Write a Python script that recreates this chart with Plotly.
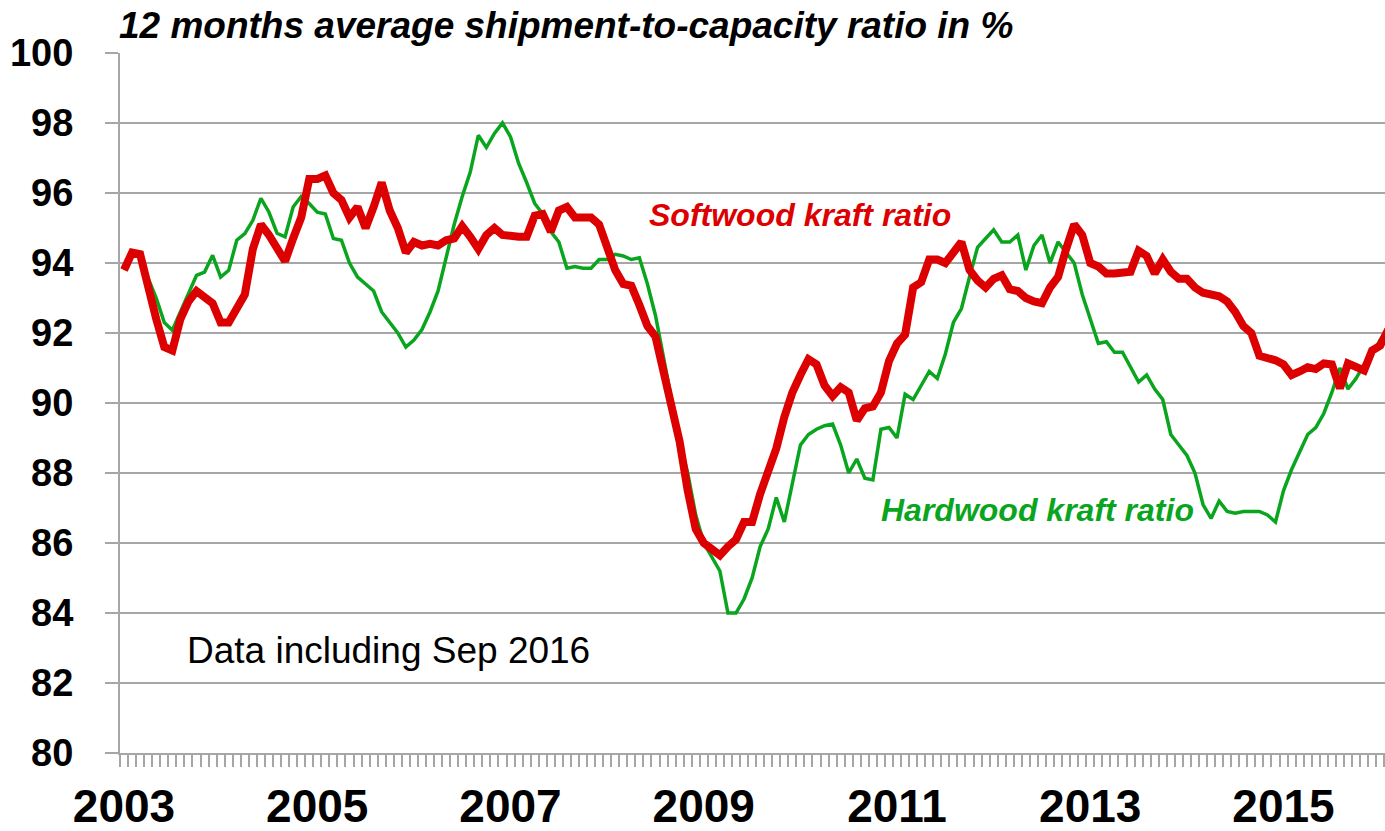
import plotly.graph_objects as go

# Monthly observations, Jan 2003 onward (month index 0 = Jan 2003)
softwood = [
    93.8, 94.3, 94.25, 93.2, 92.4, 91.6, 91.5, 92.4, 92.9, 93.2, 93.05, 92.85,
    92.3, 92.3, 92.7, 93.1, 94.4, 95.1, 94.8, 94.4, 94.05, 94.7, 95.3, 96.4,
    96.4, 96.5, 96.0, 95.8, 95.3, 95.6, 95.0, 95.6, 96.3, 95.5, 95.0, 94.3,
    94.6, 94.5, 94.55, 94.5, 94.65, 94.7, 95.05, 94.75, 94.4, 94.8, 95.0, 94.8,
    94.75, 94.75, 94.75, 95.35, 95.4, 94.9, 95.5, 95.6, 95.3, 95.3, 95.3, 95.1,
    94.4, 93.8, 93.4, 93.35, 92.8, 92.2, 91.9, 90.9, 90.0, 88.9, 87.5, 86.4,
    86.0, 85.8, 85.65, 85.9, 86.1, 86.6, 86.6, 87.4, 88.1, 88.7, 89.6, 90.3,
    90.8, 91.25, 91.1, 90.5, 90.2, 90.45, 90.3, 89.5, 89.85, 89.9, 90.3, 91.2,
    91.7, 91.95, 93.3, 93.45, 94.1, 94.1, 94.0, 94.3, 94.6, 93.8, 93.5, 93.3,
    93.55, 93.65, 93.25, 93.2, 93.0, 92.9, 92.85, 93.3, 93.6, 94.4, 95.1, 94.8,
    94.0, 93.9, 93.7, 93.7, 93.75, 93.75, 94.35, 94.2, 93.7, 94.1, 93.75, 93.55,
    93.55, 93.3, 93.15, 93.1, 93.05, 92.9, 92.6, 92.2, 92.0, 91.35, 91.3, 91.22,
    91.1, 90.8, 90.9, 91.02, 90.97, 91.13, 91.1, 90.42, 91.13, 91.0, 90.93, 91.5,
    91.64, 92.1,
]
hardwood = [
    93.8, 94.22, 94.2, 93.56, 93.0, 92.3, 92.08, 92.6, 93.17, 93.65, 93.74, 94.22,
    93.6, 93.79, 94.65, 94.84, 95.22, 95.85, 95.45, 94.85, 94.75, 95.6, 95.9, 95.7,
    95.45, 95.4, 94.7, 94.65, 94.0, 93.6, 93.4, 93.2, 92.6, 92.3, 92.0, 91.6,
    91.8, 92.1, 92.6, 93.2, 94.2, 95.1, 95.9, 96.6, 97.65, 97.3, 97.7, 98.0,
    97.6, 96.85, 96.3, 95.7, 95.4, 94.9, 94.6, 93.85, 93.9, 93.85, 93.85, 94.1,
    94.1, 94.25, 94.2, 94.1, 94.15, 93.4, 92.5, 91.3, 90.0, 88.9, 88.0, 86.8,
    86.0, 85.6, 85.2, 84.0, 84.0, 84.4, 85.0, 85.9, 86.4, 87.3, 86.6, 87.7,
    88.8, 89.1, 89.25, 89.35, 89.4, 88.8, 88.0, 88.4, 87.85, 87.8, 89.25, 89.3,
    89.0, 90.25, 90.1, 90.5, 90.9, 90.7, 91.4, 92.3, 92.7, 93.6, 94.45, 94.7,
    94.95, 94.6, 94.6, 94.8, 93.8, 94.5, 94.8, 94.0, 94.6, 94.3, 94.0, 93.1,
    92.4, 91.7, 91.75, 91.45, 91.45, 91.0, 90.6, 90.8, 90.4, 90.1, 89.1, 88.8,
    88.5, 88.0, 87.1, 86.7, 87.2, 86.9, 86.85, 86.9, 86.9, 86.9, 86.8, 86.6,
    87.5, 88.1, 88.6, 89.1, 89.3, 89.7, 90.3, 91.0, 90.4, 90.7, 91.1, 91.4,
    91.8, 92.1,
]
months = list(range(len(softwood)))
year_labels = ["2003", "2005", "2007", "2009", "2011", "2013", "2015"]
year_pos = [24 * i for i in range(len(year_labels))]
y_ticks = list(range(80, 101, 2))

FONT = "Liberation Sans, Arial, sans-serif"
RED = "#DD0000"
GREEN = "#0AA51E"
GRID = "#A6A6A6"

fig = go.Figure()
fig.add_trace(go.Scatter(x=months, y=hardwood, mode="lines",
                         line=dict(color=GREEN, width=3.5), showlegend=False,
                         hoverinfo="skip"))
fig.add_trace(go.Scatter(x=months, y=softwood, mode="lines",
                         line=dict(color=RED, width=8), showlegend=False,
                         hoverinfo="skip"))

fig.update_layout(
    width=1385, height=831,
    margin=dict(l=120, r=0, t=53, b=78),
    paper_bgcolor="white", plot_bgcolor="white",
    font=dict(family=FONT, color="black"),
    xaxis=dict(
        range=[-0.5, 156.6],
        tickmode="array", tickvals=year_pos, ticktext=year_labels,
        tickfont=dict(size=46, family=FONT, color="black", weight="bold"),
        ticks="", showgrid=False, zeroline=False,
        showline=True, linecolor=GRID, linewidth=2,
        ticklabelstandoff=12,
        minor=dict(tickmode="array",
                   tickvals=[k - 0.5 for k in range(0, 160)],
                   ticks="outside", ticklen=12, tickcolor=GRID, tickwidth=1.5,
                   showgrid=False),
    ),
    yaxis=dict(
        range=[80, 100],
        tickmode="array", tickvals=y_ticks, ticktext=[str(v) for v in y_ticks],
        tickfont=dict(size=38, family=FONT, color="black", weight="bold"),
        ticks="outside", ticklen=13, tickcolor=GRID, tickwidth=1.5,
        showgrid=True, gridcolor=GRID, gridwidth=1.5,
        zeroline=False, showline=True, linecolor=GRID, linewidth=2,
        ticklabelstandoff=24,
    ),
    annotations=[
        dict(text="<b><i>12 months average shipment-to-capacity ratio in %</i></b>",
             xref="paper", yref="paper", x=-0.002, y=1.0, yshift=28,
             xanchor="left", yanchor="middle", showarrow=False,
             font=dict(size=37, family=FONT, color="black")),
        dict(text="<b><i>Softwood kraft ratio</i></b>", x=84.0, y=95.36,
             xref="x", yref="y", xanchor="center", yanchor="middle",
             showarrow=False, font=dict(size=32, family=FONT, color=RED)),
        dict(text="<b><i>Hardwood kraft ratio</i></b>", x=113.5, y=86.93,
             xref="x", yref="y", xanchor="center", yanchor="middle",
             showarrow=False, font=dict(size=32, family=FONT, color=GREEN)),
        dict(text="Data including Sep 2016", x=7.6, y=82.93,
             xref="x", yref="y", xanchor="left", yanchor="middle",
             showarrow=False, font=dict(size=37, family=FONT, color="black")),
    ],
)

fig.write_html("out.html",
               config={"displayModeBar": False},
               post_script="document.body.style.margin='0';"
                           "document.body.style.overflow='hidden';")
